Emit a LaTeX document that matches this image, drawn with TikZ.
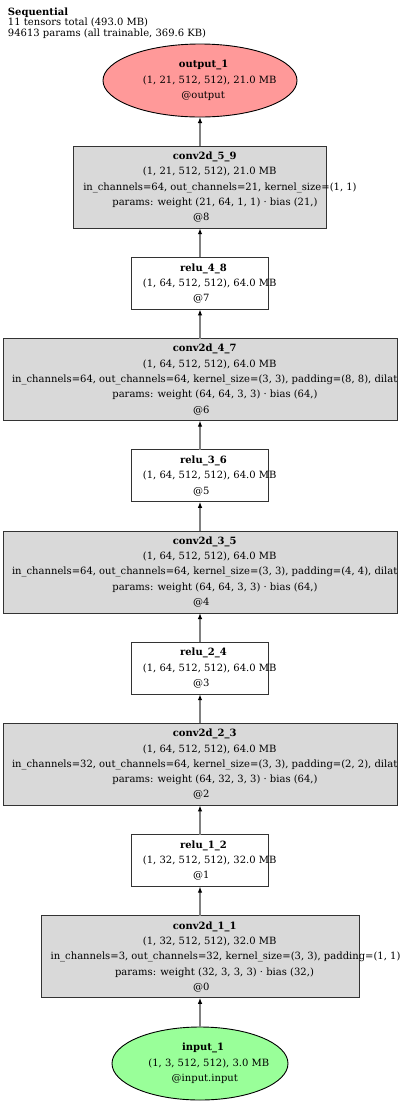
\documentclass[tikz,border=0pt]{standalone}
\usepackage{fontspec}
\setmainfont{DejaVu Serif}
\usetikzlibrary{positioning}
\usetikzlibrary{shapes.geometric}
\usetikzlibrary{arrows.meta}

\definecolor{outred}{HTML}{FF9999}
\definecolor{ingreen}{HTML}{99FF99}
\definecolor{convgray}{HTML}{D9D9D9}
\definecolor{edgegray}{HTML}{808080}
\definecolor{boxline}{HTML}{333333}

% one text line, started left of the centre like the graph tool does
\newlength\glw
\newcommand\gl[1]{\settowidth{\glw}{#1}\makebox[0pt][l]{\hspace{-0.427\glw}#1}}
% a line that runs off the right edge
\newcommand\glcut[1]{\makebox[0pt][l]{\hspace{-188pt}#1}}

\begin{document}
\begin{tikzpicture}[x=1pt, y=-1pt, node distance=29.2pt,
    every node/.style={font=\fontsize{10}{15.3}\selectfont, align=center, outer sep=0pt, inner sep=0pt},
    convbox/.style={draw=boxline, fill=convgray, line width=0.9pt, minimum height=82pt},
    relubox/.style={draw=boxline, fill=white, line width=0.9pt, minimum width=137pt, minimum height=52pt},
    outnode/.style={ellipse, draw, fill=outred, line width=0.9pt, minimum width=194pt, minimum height=73pt},
    innode/.style={ellipse, draw, fill=ingreen, line width=0.9pt, minimum width=176pt, minimum height=73pt},
    edge/.style={draw=edgegray, line width=1.2pt, -{Latex[length=6pt,width=4.5pt,color=black]}}]
    \useasboundingbox (0,0) rectangle (400,1104);
    \node[anchor=north west, align=left, font=\fontsize{10}{10.8}\selectfont] (header) at (8,7.5)
        {\textbf{Sequential}\\11 tensors total (493.0 MB)\\94613 params (all trainable, 369.6 KB)};
    \node[innode] (inp) at (200,1063.5)
        {\gl{\textbf{input\_1}}\\\gl{(1, 3, 512, 512), 3.0 MB}\\\gl{@input.input}};
    \node[convbox, minimum width=318pt] (conv1) [above=of inp]
        {\gl{\textbf{conv2d\_1\_1}}\\\gl{(1, 32, 512, 512), 32.0 MB}\\
         \gl{in\_channels=3, out\_channels=32, kernel\_size=(3, 3), padding=(1, 1)}\\
         \gl{params: weight (32, 3, 3, 3) · bias (32,)}\\\gl{@0}};
    \node[relubox] (relu1) [above=of conv1]
        {\gl{\textbf{relu\_1\_2}}\\\gl{(1, 32, 512, 512), 32.0 MB}\\\gl{@1}};
    \node[convbox, minimum width=394pt] (conv2) [above=of relu1]
        {\gl{\textbf{conv2d\_2\_3}}\\\gl{(1, 64, 512, 512), 64.0 MB}\\
         \glcut{in\_channels=32, out\_channels=64, kernel\_size=(3, 3), padding=(2, 2), dilat}\\
         \gl{params: weight (64, 32, 3, 3) · bias (64,)}\\\gl{@2}};
    \node[relubox] (relu2) [above=of conv2]
        {\gl{\textbf{relu\_2\_4}}\\\gl{(1, 64, 512, 512), 64.0 MB}\\\gl{@3}};
    \node[convbox, minimum width=394pt] (conv3) [above=of relu2]
        {\gl{\textbf{conv2d\_3\_5}}\\\gl{(1, 64, 512, 512), 64.0 MB}\\
         \glcut{in\_channels=64, out\_channels=64, kernel\_size=(3, 3), padding=(4, 4), dilat}\\
         \gl{params: weight (64, 64, 3, 3) · bias (64,)}\\\gl{@4}};
    \node[relubox] (relu3) [above=of conv3]
        {\gl{\textbf{relu\_3\_6}}\\\gl{(1, 64, 512, 512), 64.0 MB}\\\gl{@5}};
    \node[convbox, minimum width=394pt] (conv4) [above=of relu3]
        {\gl{\textbf{conv2d\_4\_7}}\\\gl{(1, 64, 512, 512), 64.0 MB}\\
         \glcut{in\_channels=64, out\_channels=64, kernel\_size=(3, 3), padding=(8, 8), dilat}\\
         \gl{params: weight (64, 64, 3, 3) · bias (64,)}\\\gl{@6}};
    \node[relubox] (relu4) [above=of conv4]
        {\gl{\textbf{relu\_4\_8}}\\\gl{(1, 64, 512, 512), 64.0 MB}\\\gl{@7}};
    \node[convbox, minimum width=253pt] (conv5) [above=of relu4]
        {\gl{\textbf{conv2d\_5\_9}}\\\gl{(1, 21, 512, 512), 21.0 MB}\\
         \gl{in\_channels=64, out\_channels=21, kernel\_size=(1, 1)}\\
         \gl{params: weight (21, 64, 1, 1) · bias (21,)}\\\gl{@8}};
    \node[outnode] (out) [above=of conv5]
        {\gl{\textbf{output\_1}}\\\gl{(1, 21, 512, 512), 21.0 MB}\\\gl{@output}};
    \draw[edge] (inp) -- (conv1);
    \draw[edge] (conv1) -- (relu1);
    \draw[edge] (relu1) -- (conv2);
    \draw[edge] (conv2) -- (relu2);
    \draw[edge] (relu2) -- (conv3);
    \draw[edge] (conv3) -- (relu3);
    \draw[edge] (relu3) -- (conv4);
    \draw[edge] (conv4) -- (relu4);
    \draw[edge] (relu4) -- (conv5);
    \draw[edge] (conv5) -- (out);
\end{tikzpicture}
\end{document}
